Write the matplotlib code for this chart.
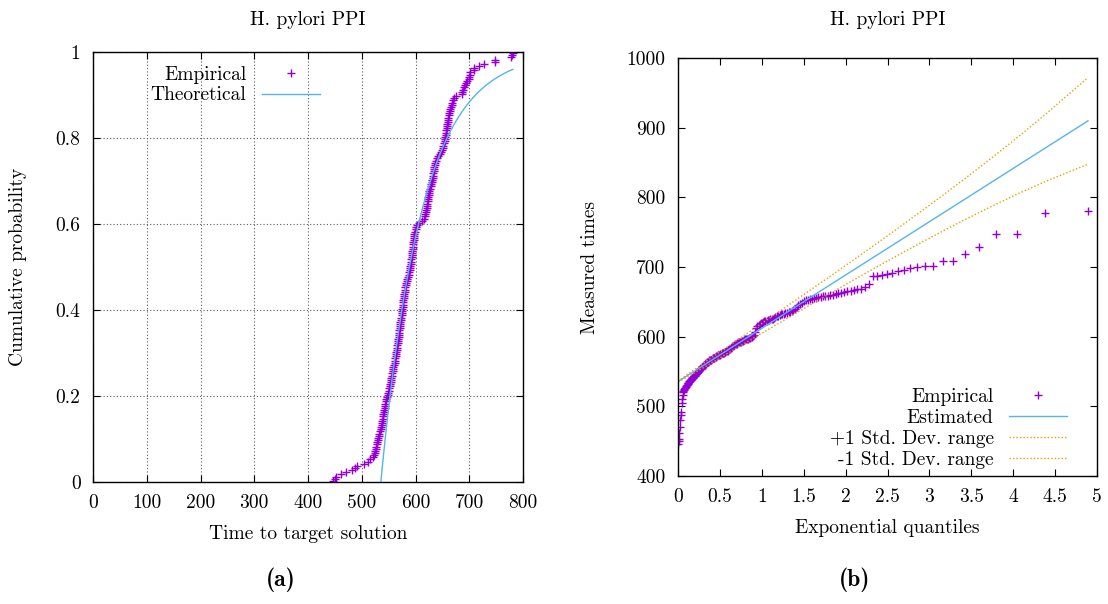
import matplotlib
matplotlib.use("Agg")
import matplotlib.pyplot as plt
import numpy as np

# ------------------------------------------------------------
# data (200 sorted run times)
# ------------------------------------------------------------
TITLE = "H. pylori PPI"

TIMES = [
    446, 450, 453, 462, 470, 481, 488, 492, 505, 511,
    516, 520, 522, 524, 525, 526, 527, 528, 529, 530,
    531, 532, 533, 534, 535, 536, 537, 538, 538, 539,
    540, 540, 541, 542, 543, 543, 544, 545, 546, 547,
    548, 549, 550, 551, 552, 553, 554, 554, 555, 556,
    557, 558, 559, 559, 560, 561, 561, 562, 563, 564,
    564, 565, 566, 566, 567, 567, 568, 569, 569, 570,
    570, 571, 571, 572, 572, 573, 573, 574, 574, 575,
    575, 576, 576, 577, 577, 578, 578, 579, 580, 580,
    581, 582, 583, 584, 585, 586, 587, 588, 589, 590,
    590, 591, 592, 592, 593, 593, 594, 594, 595, 595,
    596, 596, 597, 597, 598, 598, 599, 600, 601, 603,
    606, 612, 615, 617, 618, 619, 620, 621, 622, 622,
    623, 624, 624, 625, 626, 626, 627, 628, 629, 630,
    631, 632, 632, 633, 634, 634, 635, 636, 637, 638,
    640, 642, 645, 647, 649, 651, 652, 653, 654, 654,
    655, 656, 657, 657, 658, 658, 659, 660, 660, 661,
    662, 663, 664, 665, 666, 667, 668, 669, 671, 676,
    687, 687, 688, 690, 692, 694, 695, 699, 700, 701,
    702, 708, 709, 719, 728, 747, 748, 778, 780, 781,
]

# fitted shifted exponential (location, scale)
MU = 535.5
LAMBDA = 76.5

X1_TICKS = [0, 100, 200, 300, 400, 500, 600, 700, 800]
Y1_TICKS = [0, 0.2, 0.4, 0.6, 0.8, 1]
Y1_LABELS = ["0", "0.2", "0.4", "0.6", "0.8", "1"]
X2_TICKS = [0, 0.5, 1, 1.5, 2, 2.5, 3, 3.5, 4, 4.5, 5]
X2_LABELS = ["0", "0.5", "1", "1.5", "2", "2.5", "3", "3.5", "4", "4.5", "5"]
Y2_TICKS = [400, 500, 600, 700, 800, 900, 1000]

PURPLE = "#9400D3"
BLUE = "#56B4E9"
ORANGE = "#E69F00"

plt.rcParams["font.family"] = ["cmr10", "DejaVu Serif"]
plt.rcParams["mathtext.fontset"] = "cm"
plt.rcParams["axes.unicode_minus"] = False
plt.rcParams["font.size"] = 14

times = np.array(TIMES, dtype=float)
n = len(times)
prob = (np.arange(1, n + 1) - 0.5) / n
quant = -np.log(1 - prob)

fig = plt.figure(figsize=(11.08, 6.04), dpi=100)
W, H = 1108, 604


def px_axes(x0, y0, x1, y1):
    return fig.add_axes([x0 / W, 1 - y1 / H, (x1 - x0) / W, (y1 - y0) / H])


def style(ax):
    ax.tick_params(direction="in", length=5, width=0.8, top=True, right=True,
                   labelsize=14, pad=9, colors="black")
    for s in ax.spines.values():
        s.set_linewidth(1.0)


# ---------------- (a) CDF ----------------
ax1 = px_axes(93, 52, 523, 482)
ax1.plot(times, prob, "+", color=PURPLE, ms=5.5, mew=1.0, label="Empirical")
tt = np.linspace(times.min(), times.max(), 400)
ax1.plot(tt, 1 - np.exp(-(tt - MU) / LAMBDA), color=BLUE, lw=1.0,
         label="Theoretical")
ax1.set_xlim(0, 800)
ax1.set_ylim(0, 1)
ax1.set_xticks(X1_TICKS)
ax1.set_xticklabels([str(v) for v in X1_TICKS])
ax1.set_yticks(Y1_TICKS)
ax1.set_yticklabels(Y1_LABELS)
ax1.grid(True, color="0.35", linestyle=(0, (1, 2)), linewidth=0.8)
style(ax1)
ax1.set_title(TITLE, fontsize=14, y=(482 - 20) / 430, pad=0, va="center")
ax1.set_xlabel("Time to target solution", fontsize=14)
ax1.xaxis.set_label_coords(0.5, (482 - 534) / 430)
ax1.xaxis.label.set_va("center")
ax1.set_ylabel("Cumulative probability", fontsize=14)
ax1.yaxis.set_label_coords((18 - 93) / 430, 0.5)
ax1.yaxis.label.set_va("center")
ax1.legend(loc="upper right", bbox_to_anchor=(0.56, 1.0), frameon=False,
           markerfirst=False, handlelength=3.0, handletextpad=0.8,
           labelspacing=0.15, borderpad=0.2, fontsize=14)

# ---------------- (b) QQ plot ----------------
ax2 = px_axes(678, 58, 1097, 476)
shown = quant <= 5
est = MU + LAMBDA * quant
dev = LAMBDA * np.sqrt(prob / ((1 - prob) * n))
ax2.plot(quant, times, "+", color=PURPLE, ms=5.5, mew=1.0, label="Empirical")
ax2.plot(quant[shown], est[shown], color=BLUE, lw=1.0, label="Estimated")
ax2.plot(quant[shown], est[shown] + dev[shown], color=ORANGE, lw=1.0,
         linestyle=(0, (1, 1.5)), label="+1 Std. Dev. range")
ax2.plot(quant[shown], est[shown] - dev[shown], color=ORANGE, lw=1.0,
         linestyle=(0, (1, 1.5)), label="-1 Std. Dev. range")
ax2.set_xlim(0, 5)
ax2.set_ylim(400, 1000)
ax2.set_xticks(X2_TICKS)
ax2.set_xticklabels(X2_LABELS)
ax2.set_yticks(Y2_TICKS)
ax2.set_yticklabels([str(v) for v in Y2_TICKS])
style(ax2)
ax2.set_title(TITLE, fontsize=14, y=(476 - 20) / 418, pad=0, va="center")
ax2.set_xlabel("Exponential quantiles", fontsize=14)
ax2.xaxis.set_label_coords(0.5, (476 - 528) / 418)
ax2.xaxis.label.set_va("center")
ax2.set_ylabel("Measured times", fontsize=14)
ax2.yaxis.set_label_coords((590 - 678) / 419, 0.5)
ax2.yaxis.label.set_va("center")
ax2.legend(loc="lower right", bbox_to_anchor=(0.962, -0.015), frameon=False,
           markerfirst=False, handlelength=3.0, handletextpad=0.8,
           labelspacing=0.15, borderpad=0.2, fontsize=14)

fig.text(281 / W, 1 - 580 / H, "(a)", ha="center", va="center",
         fontsize=17, family=["cmb10", "DejaVu Serif"], fontweight="bold")
fig.text(855 / W, 1 - 580 / H, "(b)", ha="center", va="center",
         fontsize=17, family=["cmb10", "DejaVu Serif"], fontweight="bold")

fig.savefig("out.png", dpi=100)
